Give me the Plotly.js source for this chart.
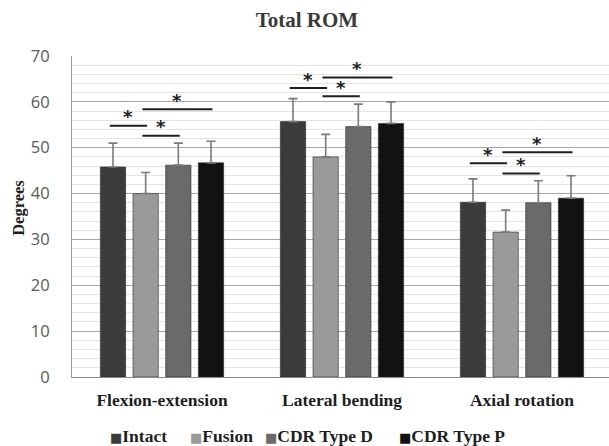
<!DOCTYPE html>
<html>
<head>
<meta charset="utf-8">
<script src="https://cdn.plot.ly/plotly-3.0.1.min.js"></script>
<style>html,body{margin:0;padding:0;background:#fff;}#chart{width:609px;height:446px;}</style>
</head>
<body>
<div id="chart"></div>
<script>
// ---- data ----
const categories = ['Flexion-extension', 'Lateral bending', 'Axial rotation'];
const seriesNames = ['Intact', 'Fusion', 'CDR Type D', 'CDR Type P'];
const intact = [45.8, 55.7, 38.1];
const intactSD = [5.2, 5.0, 5.1];
const fusion = [40.0, 48.0, 31.6];
const fusionSD = [4.6, 4.9, 4.8];
const cdrD = [46.2, 54.6, 38.0];
const cdrDSD = [4.8, 4.9, 4.8];
const cdrP = [46.7, 55.3, 39.0];
const cdrPSD = [4.7, 4.7, 4.9];
// significance brackets: [from series, to series] and heights per category
const sigPairs = [[0, 1], [1, 2], [1, 3]];
const sigHeights = [[54.8, 52.6, 58.4], [63.0, 61.2, 65.3], [46.6, 44.4, 49.0]];
const yTicks = [0, 10, 20, 30, 40, 50, 60, 70];

// ---- styles ----
const colors = ['#3b3b3b', '#9a9a9a', '#6a6a6a', '#121212'];
const values = [intact, fusion, cdrD, cdrP];
const sds = [intactSD, fusionSD, cdrDSD, cdrPSD];
const bargap = 0.274;
const serif = 'Liberation Serif, Times New Roman, serif';

const traces = seriesNames.map((name, i) => ({
  type: 'bar',
  name: name,
  x: categories,
  y: values[i],
  marker: {color: colors[i], line: {color: '#2a2a2a', width: 0.6}},
  error_y: {type: 'data', symmetric: false, array: sds[i], arrayminus: sds[i].map(() => 0),
            color: '#7a7a7a', thickness: 1.6, width: 4.5},
  showlegend: false
}));

const slot = (1 - bargap) / seriesNames.length;
const offset = i => (i - (seriesNames.length - 1) / 2) * slot;

const shapes = [];
const annotations = [];
categories.forEach((c, ci) => {
  sigPairs.forEach((p, pi) => {
    const x0 = ci + offset(p[0]) - 0.018;
    const x1 = ci + offset(p[1]) + 0.008;
    const h = sigHeights[ci][pi];
    shapes.push({type: 'line', xref: 'x', yref: 'y', x0: x0, x1: x1, y0: h, y1: h,
                 line: {color: '#1e1e1e', width: 2}});
    annotations.push({xref: 'x', yref: 'y', x: (x0 + x1) / 2, y: h, yshift: 9,
                      text: '<b>*</b>', showarrow: false, yanchor: 'middle',
                      font: {family: 'DejaVu Sans', size: 18, color: '#1e1e1e'}});
  });
});

// y axis title
annotations.push({xref: 'paper', yref: 'paper', x: -0.1, y: 0.528, xanchor: 'center', yanchor: 'middle',
  text: '<b>Degrees</b>', textangle: -90, showarrow: false,
  font: {family: serif, size: 16.5, color: '#1e1e1e'}});

// legend entries
const legendPx = [108, 188, 263, 397];
seriesNames.forEach((n, i) => {
  annotations.push({xref: 'paper', yref: 'paper', x: (legendPx[i] - 72) / 537, y: -0.184,
    xanchor: 'left', yanchor: 'middle', showarrow: false,
    text: '<span style="color:' + colors[i] + ';font-family:DejaVu Sans;font-size:13px">■</span><b>' + n + '</b>',
    font: {family: serif, size: 17.5, color: '#1e1e1e'}});
});

const layout = {
  width: 609, height: 446,
  margin: {l: 72, r: 0, t: 56, b: 69},
  paper_bgcolor: '#ffffff', plot_bgcolor: '#ffffff',
  title: {text: '<b>Total ROM</b>', x: 0.504, xref: 'container', y: 0.955, yanchor: 'middle',
          font: {family: serif, size: 21, color: '#3a3a3a'}},
  barmode: 'group', bargap: bargap, bargroupgap: 0.226,
  showlegend: false,
  xaxis: {type: 'category', range: [-0.5, -0.5 + 537 / 180], showgrid: false,
          showline: true, linecolor: '#8a8a8a', linewidth: 1.3, ticks: '',
          tickfont: {family: serif, size: 17.5, color: '#1e1e1e'}, ticklabelstandoff: 7,
          tickprefix: '<b>', ticksuffix: '</b>'},
  yaxis: {range: [0, 70], tickvals: yTicks, ticks: '', showline: true, linecolor: '#9a9a9a', linewidth: 1,
          gridcolor: '#a6a6a6', gridwidth: 1, zeroline: false,
          tickfont: {family: 'Open Sans, sans-serif', size: 16.5, color: '#595959'}, ticklabelstandoff: 18,
          minor: {dtick: 2, showgrid: true, gridcolor: '#e4e4e4', gridwidth: 1}},
  shapes: shapes,
  annotations: annotations
};

Plotly.newPlot('chart', traces, layout, {staticPlot: true, displayModeBar: false});
</script>
</body>
</html>
